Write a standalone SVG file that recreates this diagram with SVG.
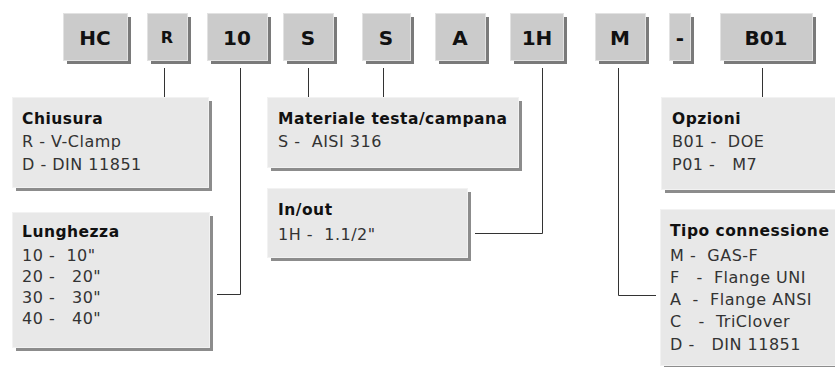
<svg xmlns="http://www.w3.org/2000/svg" width="835" height="367" viewBox="0 0 835 367">
<style>
.kb{fill:#cbcbcb;stroke:#e2e2e2;stroke-width:1}
.ks{fill:#7a7a7a}
.kt{font-family:"DejaVu Sans",sans-serif;font-weight:bold;font-size:20px;fill:#111;text-anchor:middle}
.lb{fill:#e8e8e8;stroke:#f2f2f2;stroke-width:1}
.ls{fill:#8c8c8c}
.h{font-family:"DejaVu Sans",sans-serif;font-weight:bold;font-size:15.5px;letter-spacing:0.5px;fill:#111;white-space:pre}
.t{font-family:"DejaVu Sans",sans-serif;font-size:16px;letter-spacing:0.5px;fill:#333;white-space:pre}
.c{fill:none;stroke:#333;stroke-width:1}
</style>
<rect width="835" height="367" fill="#fff"/>
<g id="k-HC"><rect class="ks" x="67" y="17" width="64" height="47"/><rect class="kb" x="63.5" y="13.5" width="64" height="47"/><text class="kt" x="95" y="45">HC</text></g>
<g id="k-R"><rect class="ks" x="151" y="17" width="40" height="47"/><rect class="kb" x="147.5" y="13.5" width="40" height="47"/><text class="kt" x="167" y="43" style="font-size:16px">R</text></g>
<g id="k-10"><rect class="ks" x="211" y="17" width="60" height="47"/><rect class="kb" x="207.5" y="13.5" width="60" height="47"/><text class="kt" x="237" y="45">10</text></g>
<g id="k-S1"><rect class="ks" x="287" y="17" width="50" height="47"/><rect class="kb" x="283.5" y="13.5" width="50" height="47"/><text class="kt" x="308" y="45">S</text></g>
<g id="k-S2"><rect class="ks" x="366" y="17" width="48" height="47"/><rect class="kb" x="362.5" y="13.5" width="48" height="47"/><text class="kt" x="386" y="45">S</text></g>
<g id="k-A"><rect class="ks" x="439" y="17" width="50" height="47"/><rect class="kb" x="435.5" y="13.5" width="50" height="47"/><text class="kt" x="460" y="45">A</text></g>
<g id="k-1H"><rect class="ks" x="514" y="17" width="53" height="47"/><rect class="kb" x="510.5" y="13.5" width="53" height="47"/><text class="kt" x="537" y="45">1H</text></g>
<g id="k-M"><rect class="ks" x="599" y="17" width="50" height="47"/><rect class="kb" x="595.5" y="13.5" width="50" height="47"/><text class="kt" x="620" y="45">M</text></g>
<g id="k-dash"><rect class="ks" x="673" y="17" width="21" height="47"/><rect class="kb" x="669.5" y="13.5" width="21" height="47"/><text class="kt" x="680" y="45">-</text></g>
<g id="k-B01"><rect class="ks" x="724" y="17" width="92" height="47"/><rect class="kb" x="720.5" y="13.5" width="92" height="47"/><text class="kt" x="766" y="45">B01</text></g>

<g id="connectors">
<path class="c" d="M164.5 68V97"/>
<path class="c" d="M240.5 68V294.5H217"/>
<path class="c" d="M308.5 68V97"/>
<path class="c" d="M383.5 68V97"/>
<path class="c" d="M542.5 68V233.5H475"/>
<path class="c" d="M618.5 68V295.5H656"/>
<path class="c" d="M762.5 68V97"/>
</g>

<g id="chiusura"><rect class="ls" x="16" y="101" width="196" height="90"/><rect class="lb" x="12.5" y="97.5" width="196" height="90"/>
<text class="h" x="22" y="124">Chiusura</text>
<text class="t" x="22" y="147">R - V-Clamp</text>
<text class="t" x="22" y="170">D - DIN 11851</text></g>

<g id="lunghezza"><rect class="ls" x="16" y="216" width="197" height="135"/><rect class="lb" x="12.5" y="212.5" width="197" height="135"/>
<text class="h" x="22" y="237">Lunghezza</text>
<text class="t" x="22" y="261">10 -  10"</text>
<text class="t" x="22" y="282">20 -   20"</text>
<text class="t" x="22" y="303">30 -   30"</text>
<text class="t" x="22" y="324">40 -   40"</text></g>

<g id="materiale"><rect class="ls" x="271" y="101" width="251" height="70"/><rect class="lb" x="267.5" y="97.5" width="251" height="70"/>
<text class="h" x="278" y="124">Materiale testa/campana</text>
<text class="t" x="278" y="147">S -  AISI 316</text></g>

<g id="inout"><rect class="ls" x="271" y="192" width="200" height="69"/><rect class="lb" x="267.5" y="188.5" width="200" height="69"/>
<text class="h" x="278" y="215">In/out</text>
<text class="t" x="278" y="240">1H -  1.1/2"</text></g>

<g id="opzioni"><rect class="ls" x="665" y="101" width="180" height="92"/><rect class="lb" x="661.5" y="97.5" width="180" height="92"/>
<text class="h" x="672" y="124">Opzioni</text>
<text class="t" x="672" y="147">B01 -  DOE</text>
<text class="t" x="672" y="170">P01 -   M7</text></g>

<g id="tipo"><rect class="ls" x="664" y="213" width="180" height="156"/><rect class="lb" x="660.5" y="209.5" width="180" height="156"/>
<text class="h" x="670" y="236">Tipo connessione</text>
<text class="t" x="670" y="261">M -  GAS-F</text>
<text class="t" x="670" y="283">F   -  Flange UNI</text>
<text class="t" x="670" y="305">A  -  Flange ANSI</text>
<text class="t" x="670" y="327">C   -  TriClover</text>
<text class="t" x="670" y="350">D -   DIN 11851</text></g>
</svg>
